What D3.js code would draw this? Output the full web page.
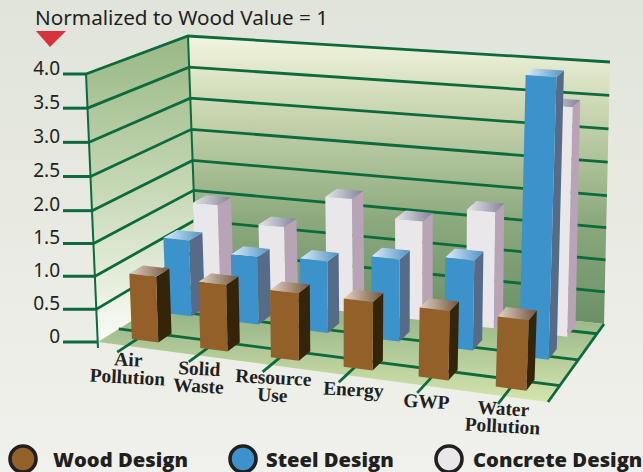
<!DOCTYPE html>
<html>
<head>
<meta charset="utf-8">
<script src="https://cdn.jsdelivr.net/npm/d3@7"></script>
<style>
html, body { margin: 0; padding: 0; overflow: hidden; }
svg { display: block; }
</style>
</head>
<body>
<div id="chart"></div>
<script>
var categories = ["Air Pollution", "Solid Waste", "Resource Use", "Energy", "GWP", "Water Pollution"];
var woodValues = [1, 1, 1, 1, 1, 1];
var steelValues = [1.2, 1.05, 1.1, 1.25, 1.35, 4.1];
var concreteValues = [1.5, 1.25, 1.8, 1.55, 1.8, 3.45];
var valueTicks = [0, 0.5, 1, 1.5, 2, 2.5, 3, 3.5, 4];
var legendLabels = ["Wood Design", "Steel Design", "Concrete Design"];

var width = 643, height = 472;
var gridColor = "#0d6a3d", ink = "#231f20";

var svg = d3.select("#chart").append("svg")
    .attr("width", width)
    .attr("height", height);

// corners of the box: FL, FR, BR, BL
var floorCorners = [[98, 342], [548, 402], [604, 324], [197, 280]];
var topCorners = [[86, 74], [560, 110], [610, 62], [188, 36]];

// the printed axis is a little uneven, lower half is squeezed
var yScale = d3.scaleLinear().domain([0, 2, 4]).range([0, 0.49, 1]);
var bandScale = d3.scaleBand().domain(categories).range([0.008, 1.012]);

// right side of the box is nearer, so bands get wider going right
function warp(t) {
    return t * (1 + 0.1 * t) / 1.1;
}

function bilinear(c, u, v) {
    return [0, 1].map(function (k) {
        return (1 - u) * (1 - v) * c[0][k] + u * (1 - v) * c[1][k] + u * v * c[2][k] + (1 - u) * v * c[3][k];
    });
}

function project(u, v, value) {
    let f = bilinear(floorCorners, u, v);
    let t = bilinear(topCorners, u, v);
    let h = yScale(value);
    return [f[0] + (t[0] - f[0]) * h, f[1] + (t[1] - f[1]) * h];
}

var line = d3.line();
var defs = svg.append("defs");

function addGradient(id, stops, x1, y1, x2, y2, user) {
    let g = defs.append("linearGradient").attr("id", id)
        .attr("x1", x1).attr("y1", y1).attr("x2", x2).attr("y2", y2);
    if (user) g.attr("gradientUnits", "userSpaceOnUse");
    stops.forEach(function (s) {
        g.append("stop").attr("offset", s[0]).attr("stop-color", s[1]);
    });
}

addGradient("bg", [[0, "#e1e4da"], [1, "#f0f1ec"]], 0, 0, 0, 1);
addGradient("backWall", [[0, "#f3f5e0"], [0.3, "#c3d1aa"], [0.65, "#8aa87c"], [1, "#6a9066"]], 0, 36, 0, 324, true);
addGradient("leftWall", [[0, "#9cbb8a"], [0.45, "#c4d6b2"], [0.8, "#e6eedd"], [1, "#fbfcf7"]], 0, 50, 0, 342, true);
addGradient("floorFill", [[0, "#86a97f"], [1, "#d3e3ab"]], 0, 290, 0, 400, true);
addGradient("topWood", [[0, "#e2d2c4"], [1, "#74553c"]], 0, 0, 1, 0);
addGradient("topSteel", [[0, "#dcecf8"], [1, "#4f93c4"]], 0, 0, 1, 0);
addGradient("topConcrete", [[0, "#e6e6ec"], [1, "#82829a"]], 0, 0, 1, 0);

svg.append("rect").attr("width", width).attr("height", height).attr("fill", "url(#bg)");

// walls and floor
function wallPath(a, b) {
    return line([project(a[0], a[1], 0), project(a[0], a[1], 4), project(b[0], b[1], 4), project(b[0], b[1], 0)]) + "Z";
}
svg.append("path").attr("d", wallPath([0, 0], [0, 1])).attr("fill", "url(#leftWall)");
svg.append("path").attr("d", wallPath([0, 1], [1, 1])).attr("fill", "url(#backWall)");
svg.append("path")
    .attr("d", line([project(0, 0, 0), project(1, 0, 0), project(1, 1, 0), project(0, 1, 0)]) + "Z")
    .attr("fill", "url(#floorFill)");

// grid
var grid = svg.append("g").attr("stroke", gridColor).attr("stroke-width", 2.8).attr("fill", "none");
grid.selectAll(".wall-line").data(valueTicks.slice(1)).join("path")
    .attr("d", function (d) {
        return line([project(0, 0, d), project(0, 1, d), project(1, 1, d)]);
    });

// floor lines running along the front edge
grid.selectAll(".floor-line").data([0.21, 0.54, 0.875]).join("path")
    .attr("d", function (d) {
        return line([project(0, d, 0), project(1, d, 0)]);
    });
grid.append("path").attr("d", line([project(1, 0, 0), project(1, 1, 0)]));
grid.append("path").attr("stroke-width", 2).attr("d", line([project(0, 1, 4), project(0, 1, 0)]));
grid.append("path").attr("stroke-width", 2).attr("d", function () {
    let a = project(0, 0, 4), b = project(0, 0, 0);
    return line([a, [b[0], b[1] + 6]]);
});

// category ticks, from in front of the floor back under the bars
grid.selectAll(".cat-tick").data(categories).join("path")
    .attr("d", function (d) {
        let u = warp(bandScale(d) + bandScale.bandwidth() / 2) - 0.02;
        return line([project(u, -0.1, 0), project(u, 0.3, 0)]);
    });

// y axis ticks and labels
var axis = svg.append("g");
valueTicks.forEach(function (d) {
    let p = project(0, 0, d);
    axis.append("line").attr("x1", 63).attr("x2", p[0]).attr("y1", p[1]).attr("y2", p[1])
        .attr("stroke", gridColor).attr("stroke-width", 3);
    axis.append("text").attr("x", 60).attr("y", p[1] + 0.5)
        .attr("text-anchor", "end")
        .attr("font-family", "Noto Sans").attr("font-size", 19).attr("fill", ink)
        .text(d === 0 ? "0" : d.toFixed(1));
});

// bars, back row first
var series = [
    { key: "Concrete", values: concreteValues, front: "#e9e7ea", side: "#b9a3b6", top: "url(#topConcrete)", v0: 0.8, du: -0.0094, stretch: 0.992 },
    { key: "Steel", values: steelValues, front: "#3c93cc", side: "#566b87", top: "url(#topSteel)", v0: 0.5, du: -0.011, stretch: 0.991 },
    { key: "Wood", values: woodValues, front: "#93602a", side: "#33240a", top: "url(#topWood)", v0: 0.1, du: 0.001, stretch: 0.981 }
];
var barDepth = 0.14, barHalf = 0.032;

series.forEach(function (s) {
    let bars = svg.append("g").selectAll("g").data(categories).join("g");
    bars.each(function (c, i) {
        let center = (bandScale(c) + bandScale.bandwidth() / 2) * s.stretch + s.du;
        let u0 = warp(center - barHalf), u1 = warp(center + barHalf);
        let v0 = s.v0, v1 = s.v0 + barDepth, val = s.values[i];
        let g = d3.select(this);
        g.append("path").attr("fill", s.side)
            .attr("d", line([project(u1, v0, 0), project(u1, v1, 0), project(u1, v1, val), project(u1, v0, val)]) + "Z");
        g.append("path").attr("fill", s.top)
            .attr("d", line([project(u0, v0, val), project(u1, v0, val), project(u1, v1, val), project(u0, v1, val)]) + "Z");
        g.append("path").attr("fill", s.front)
            .attr("d", line([project(u0, v0, 0), project(u1, v0, 0), project(u1, v0, val), project(u0, v0, val)]) + "Z");
    });
});

// category labels
var labelLines = [["Air", "Pollution"], ["Solid", "Waste"], ["Resource", "Use"], ["Energy"], ["GWP"], ["Water", "Pollution"]];
var labelAt = [[128, 366], [199, 375], [273, 384], [353, 396], [426, 408], [503, 415]];
svg.append("g").selectAll("text").data(labelLines).join("text")
    .attr("transform", function (d, i) {
        return "translate(" + labelAt[i][0] + "," + labelAt[i][1] + ") rotate(3)";
    })
    .attr("text-anchor", "middle")
    .attr("font-family", "Liberation Serif").attr("font-weight", "bold").attr("font-size", 19.4)
    .attr("fill", ink)
    .each(function (d) {
        d3.select(this).selectAll("tspan").data(d).join("tspan")
            .attr("x", 0)
            .attr("dy", function (t, j) { return j * 17.5; })
            .text(function (t) { return t; });
    });

// title and marker
svg.append("text").attr("x", 35).attr("y", 25)
    .attr("font-family", "Noto Sans").attr("font-size", 20.7).attr("fill", ink)
    .text("Normalized to Wood Value = 1");
svg.append("path").attr("d", line([[36, 31], [66, 31], [50, 47]]) + "Z").attr("fill", "#d8323c");

// legend
var legendX = [23, 243, 449];
var legendGap = [30, 23, 24];
var legend = svg.append("g").selectAll("g").data(legendLabels).join("g")
    .attr("transform", function (d, i) { return "translate(" + legendX[i] + ",459)"; });
legend.append("circle").attr("r", 13)
    .attr("fill", function (d, i) { return ["#93602a", "#3c93cc", "#e9e7ea"][i]; })
    .attr("stroke", ink).attr("stroke-width", 3.6);
legend.append("text").attr("x", function (d, i) { return legendGap[i]; }).attr("y", 8)
    .attr("font-family", "Open Sans").attr("font-weight", 800).attr("font-size", 20.2)
    .attr("fill", ink)
    .text(function (d) { return d; });
</script>
</body>
</html>
